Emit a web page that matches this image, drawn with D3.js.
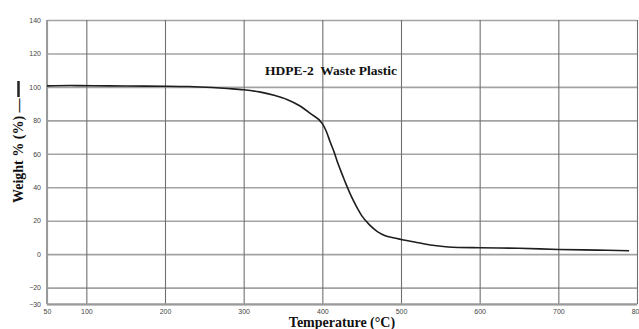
<!DOCTYPE html>
<html>
<head>
<meta charset="utf-8">
<script src="https://cdn.jsdelivr.net/npm/d3@7"></script>
<style>
  body { margin: 0; background: #fff; }
  svg { display: block; }
  .tick text { font-family: "Liberation Sans", Arial, sans-serif; font-size: 7px; fill: #444; }
  .ttl { font-family: "Liberation Serif", "Times New Roman", serif; font-weight: bold; fill: #111; white-space: pre; }
</style>
</head>
<body>
<div id="vis"></div>
<script>
const FRAME_WIDTH = 639;
const FRAME_HEIGHT = 329;
const PLOT = {left: 47, right: 637, top: 20, bottom: 304.3};

// TGA curve
const temps   = [50, 80, 110, 150, 200, 230, 260, 280, 300, 320, 340, 355, 370, 385, 400,
                 405, 410, 415, 420, 425, 430, 435, 440, 445, 450, 460, 470, 480, 490, 500,
                 520, 540, 560, 600, 650, 700, 750, 790];
const weights = [100.6, 100.8, 100.7, 100.5, 100.4, 100.2, 99.6, 99.0, 98.3, 97.0, 94.8, 92.5, 89.0, 84.0, 78.0,
                 73.5, 67.0, 61.0, 54.0, 48.0, 42.0, 36.5, 31.5, 27.0, 23.0, 17.5, 13.5, 11.0, 9.8, 8.8,
                 7.0, 5.3, 4.3, 3.8, 3.5, 2.8, 2.4, 2.0];

const xTicks = [50, 100, 200, 300, 400, 500, 600, 700, 800];
const yTicks = [-30, -20, 0, 20, 40, 60, 80, 100, 120, 140];

const svg = d3.select("#vis")
  .append("svg")
    .attr("width", FRAME_WIDTH)
    .attr("height", FRAME_HEIGHT);

const X_SCALE = d3.scaleLinear().domain([50, 800]).range([PLOT.left, PLOT.right]);
const Y_SCALE = d3.scaleLinear().domain([-30, 140]).range([PLOT.bottom, PLOT.top]);

// horizontal gridlines + y labels
const yAxis = svg.append("g")
  .attr("transform", "translate(" + PLOT.left + ",0)")
  .call(d3.axisLeft(Y_SCALE).tickValues(yTicks)
          .tickSize(-(PLOT.right - PLOT.left)).tickPadding(6));
yAxis.select(".domain").remove();
yAxis.selectAll(".tick line").attr("stroke", "#a3a3a3").attr("stroke-width", 1.6);

// vertical gridlines + x labels
const xAxis = svg.append("g")
  .attr("transform", "translate(0," + PLOT.bottom + ")")
  .call(d3.axisBottom(X_SCALE).tickValues(xTicks)
          .tickSize(-(PLOT.bottom - PLOT.top)).tickPadding(5));
xAxis.select(".domain").remove();
xAxis.selectAll(".tick line").attr("stroke", "#707070").attr("stroke-width", 1.1);

// left and bottom frame
svg.append("line")
  .attr("x1", PLOT.left).attr("x2", PLOT.left)
  .attr("y1", PLOT.top).attr("y2", PLOT.bottom)
  .attr("stroke", "#9a9a9a").attr("stroke-width", 2);
svg.append("line")
  .attr("x1", PLOT.left).attr("x2", PLOT.right)
  .attr("y1", PLOT.bottom).attr("y2", PLOT.bottom)
  .attr("stroke", "#9a9a9a").attr("stroke-width", 2);

// the curve
const line = d3.line()
  .x((d, i) => X_SCALE(temps[i]))
  .y((d) => Y_SCALE(d))
  .curve(d3.curveMonotoneX);

svg.append("path")
  .datum(weights)
  .attr("d", line)
  .attr("fill", "none")
  .attr("stroke", "#1e1e1e")
  .attr("stroke-width", 1.6);

// titles
svg.append("text")
  .attr("class", "ttl")
  .attr("x", 265).attr("y", 75)
  .attr("font-size", 13.5)
  .text("HDPE-2  Waste Plastic");

svg.append("text")
  .attr("class", "ttl")
  .attr("x", (PLOT.left + PLOT.right) / 2).attr("y", 326.5)
  .attr("text-anchor", "middle")
  .attr("font-size", 14)
  .text("Temperature (°C)");

svg.append("text")
  .attr("class", "ttl")
  .attr("transform", "translate(23,203) rotate(-90)")
  .attr("font-size", 14)
  .text("Weight % (%) —");

// legend sample at the end of the y title
svg.append("line")
  .attr("x1", 18.5).attr("x2", 18.5)
  .attr("y1", 81).attr("y2", 97)
  .attr("stroke", "#222").attr("stroke-width", 2.5);
</script>
</body>
</html>
